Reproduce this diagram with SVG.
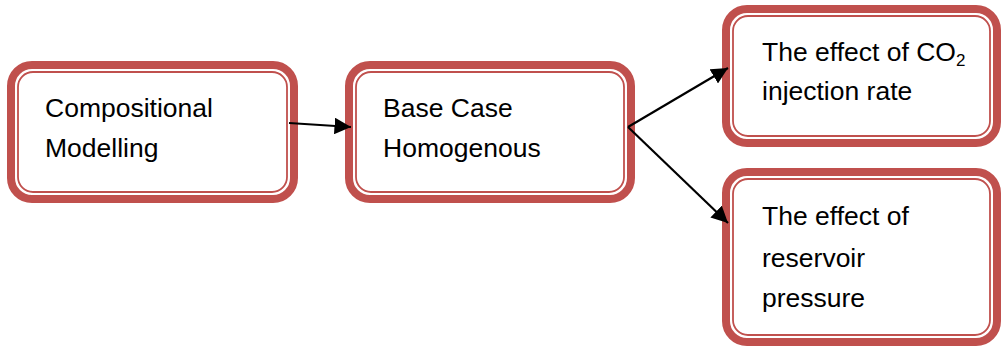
<svg xmlns="http://www.w3.org/2000/svg" width="1002" height="347" viewBox="0 0 1002 347">
<style>
.band{fill:#fff;stroke:#C0504D;stroke-width:8}
.thin{fill:none;stroke:#C0504D;stroke-width:1.8}
.lbl{font-family:"Liberation Sans",Arial,sans-serif;font-size:26.5px;fill:#000}
.conn{stroke:#000;stroke-width:2.2;fill:none}
</style>
<defs>
<marker id="ah" viewBox="0 0 10 10" refX="10" refY="5" markerWidth="7.5" markerHeight="7.5" markerUnits="strokeWidth" orient="auto">
<path d="M0,0 L10,5 L0,10 z" fill="#000"/>
</marker>
</defs>
<rect width="1002" height="347" fill="#fff"/>
<g id="node-compositional">
<rect class="band" x="11" y="65" width="283" height="134" rx="21"/>
<rect class="thin" x="18" y="72" width="269" height="120" rx="15"/>
<text class="lbl" x="45" y="117">Compositional</text>
<text class="lbl" x="45" y="157">Modelling</text>
</g>
<g id="node-basecase">
<rect class="band" x="349" y="65" width="282" height="134" rx="21"/>
<rect class="thin" x="356" y="72" width="268" height="120" rx="15"/>
<text class="lbl" x="383" y="117">Base Case</text>
<text class="lbl" x="383" y="157">Homogenous</text>
</g>
<g id="node-co2">
<rect class="band" x="726" y="9" width="271" height="134" rx="21"/>
<rect class="thin" x="733" y="16" width="257" height="120" rx="15"/>
<text class="lbl" x="762" y="61">The effect of CO<tspan font-size="17" dy="5">2</tspan></text>
<text class="lbl" x="762" y="100">injection rate</text>
</g>
<g id="node-pressure">
<rect class="band" x="726" y="172" width="271" height="170" rx="21"/>
<rect class="thin" x="733" y="179" width="257" height="156" rx="15"/>
<text class="lbl" x="762" y="225">The effect of</text>
<text class="lbl" x="762" y="267">reservoir</text>
<text class="lbl" x="762" y="307">pressure</text>
</g>
<g id="connectors">
<line class="conn" x1="289" y1="123" x2="351" y2="127" marker-end="url(#ah)"/>
<line class="conn" x1="628" y1="127" x2="728" y2="68" marker-end="url(#ah)"/>
<line class="conn" x1="628" y1="127" x2="728" y2="223" marker-end="url(#ah)"/>
</g>
</svg>
